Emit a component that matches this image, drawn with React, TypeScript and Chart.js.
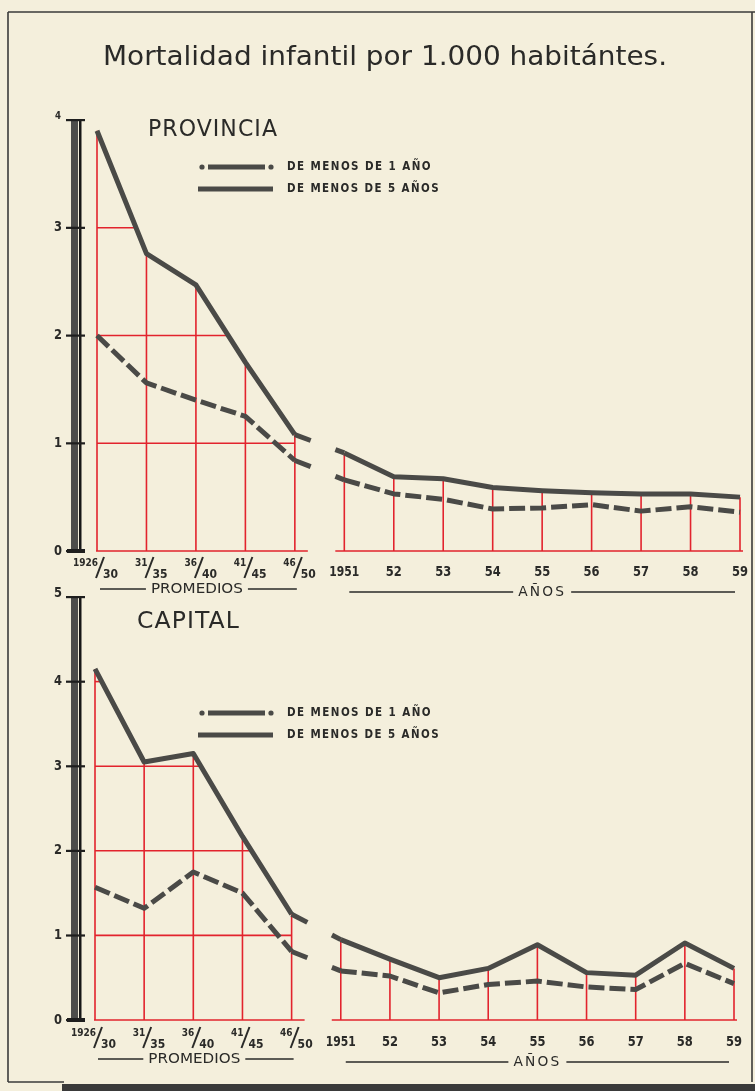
import React, { useEffect, useRef } from 'react';
import { Chart, registerables } from 'chart.js';

Chart.register(...registerables);

// ---------- data ----------
const TITLE = 'Mortalidad infantil por 1.000 habitántes.';
const CATEGORIES = ['1926/30', '31/35', '36/40', '41/45', '46/50', '1951', '52', '53', '54', '55', '56', '57', '58', '59'];
const N_PROMEDIOS = 5;
const GROUP_LABELS = ['PROMEDIOS', 'AÑOS'];
const LEGEND_LABELS = ['DE MENOS DE 1 AÑO', 'DE MENOS DE 5 AÑOS'];
const PANEL_NAMES = ['PROVINCIA', 'CAPITAL'];

const PROV_MENOS_1 = [2.0, 1.56, 1.4, 1.25, 0.84, 0.66, 0.53, 0.48, 0.39, 0.4, 0.43, 0.37, 0.41, 0.36];
const PROV_MENOS_5 = [3.9, 2.76, 2.47, 1.75, 1.08, 0.91, 0.69, 0.67, 0.59, 0.56, 0.54, 0.53, 0.53, 0.5];
const CAP_MENOS_1 = [1.57, 1.32, 1.75, 1.5, 0.81, 0.58, 0.52, 0.32, 0.42, 0.46, 0.39, 0.36, 0.67, 0.43];
const CAP_MENOS_5 = [4.15, 3.05, 3.15, 2.17, 1.25, 0.95, 0.72, 0.5, 0.61, 0.89, 0.56, 0.53, 0.91, 0.61];
const PROV_TICKS = [0, 1, 2, 3, 4];
const CAP_TICKS = [0, 1, 2, 3, 4, 5];

// ---------- style / layout ----------
const W = 755;
const H = 1091;
const BG = '#f4efdc';
const INK = '#2a2a28';
const LINE = '#4a4a47';
const RED = '#e2232d';
const FONT = '"DejaVu Sans Condensed", "DejaVu Sans", sans-serif';

type Layout = {
  pad: { left: number; right: number; top: number; bottom: number };
  titleX: number; titleW: number; titleY: number; titleSize: number;
  legendY: number[];
  catY: number; fracTop: number; fracBot: number; groupY: number;
  smallTopTick: boolean;
  drawPage: boolean;
};

const PROV_LAYOUT: Layout = {
  pad: { left: 97, right: 15, top: 120, bottom: H - 551 },
  titleX: 148, titleW: 130, titleY: 130, titleSize: 23,
  legendY: [167, 189],
  catY: 572, fracTop: 566, fracBot: 578, groupY: 589,
  smallTopTick: true,
  drawPage: true,
};
const CAP_LAYOUT: Layout = {
  pad: { left: 95, right: 21, top: 597, bottom: H - 1020 },
  titleX: 137, titleW: 103, titleY: 622, titleSize: 23,
  legendY: [713, 735],
  catY: 1042, fracTop: 1036, fracBot: 1048, groupY: 1059,
  smallTopTick: false,
  drawPage: false,
};

function fitText(ctx: CanvasRenderingContext2D, text: string, x: number, y: number, w: number, font: string, align: 'left' | 'center' | 'right' = 'left', spacing = '0px') {
  ctx.save();
  ctx.font = font;
  (ctx as any).letterSpacing = spacing;
  ctx.textBaseline = 'middle';
  ctx.textAlign = 'left';
  const m = ctx.measureText(text).width;
  const s = w / m;
  ctx.translate(x, y);
  ctx.scale(s, 1);
  const x0 = align === 'center' ? -m / 2 : align === 'right' ? -m : 0;
  ctx.fillText(text, x0, 0);
  ctx.restore();
}

function line(ctx: CanvasRenderingContext2D, x1: number, y1: number, x2: number, y2: number) {
  ctx.beginPath();
  ctx.moveTo(x1, y1);
  ctx.lineTo(x2, y2);
  ctx.stroke();
}

function makePlugin(L: Layout, ticks: number[], panelName: string) {
  return {
    id: 'vintage',
    beforeDatasetsDraw(chart: any) {
      const ctx: CanvasRenderingContext2D = chart.ctx;
      const xs = chart.scales.x;
      const ys = chart.scales.y;
      const m1: number[] = chart.data.datasets[0].data.map((p: any) => p.y);
      const m5: number[] = chart.data.datasets[1].data.map((p: any) => p.y);
      const X = (i: number) => xs.getPixelForValue(i);
      const Y = (v: number) => ys.getPixelForValue(v);
      const y0 = Y(0);
      ctx.save();
      ctx.strokeStyle = RED;
      ctx.lineWidth = 1.6;
      // horizontal grid inside promedios, bounded by upper curve
      ticks.forEach((v) => {
        if (v === 0) return;
        const top = m5.slice(0, N_PROMEDIOS);
        if (top[0] < v) return;
        let endX = X(N_PROMEDIOS - 1);
        for (let i = 0; i < N_PROMEDIOS - 1; i++) {
          if (top[i] >= v && top[i + 1] < v) {
            endX = X(i) + ((top[i] - v) / (top[i] - top[i + 1])) * (X(i + 1) - X(i));
            break;
          }
        }
        line(ctx, X(0), Y(v), endX, Y(v));
      });
      // baselines
      line(ctx, X(0) - 1, y0, X(N_PROMEDIOS - 1) + 13, y0);
      line(ctx, X(N_PROMEDIOS) - 9, y0, X(CATEGORIES.length - 1) + 3, y0);
      // drop lines
      for (let i = 0; i < CATEGORIES.length; i++) {
        const v = Math.max(m1[i], m5[i]);
        line(ctx, X(i), y0, X(i), Y(v));
      }
      ctx.restore();
    },
    afterDatasetsDraw(chart: any) {
      const ctx: CanvasRenderingContext2D = chart.ctx;
      const xs = chart.scales.x;
      const ys = chart.scales.y;
      const X = (i: number) => xs.getPixelForValue(i);
      const Y = (v: number) => ys.getPixelForValue(v);
      ctx.save();
      // stubs across the break between promedios and años
      chart.data.datasets.forEach((ds: any, di: number) => {
        const meta = chart.getDatasetMeta(di);
        const a = meta.data[N_PROMEDIOS - 1];
        const b = meta.data[N_PROMEDIOS];
        const dx = b.x - a.x;
        const dy = b.y - a.y;
        ctx.strokeStyle = LINE;
        ctx.lineWidth = 5;
        ctx.lineCap = 'butt';
        line(ctx, a.x, a.y, a.x + 0.32 * dx, a.y + 0.32 * dy);
        line(ctx, b.x - 0.18 * dx, b.y - 0.18 * dy, b.x, b.y);
      });

      // y axis bar
      const yTop = Y(ticks[ticks.length - 1]);
      const yBot = Y(0);
      ctx.fillStyle = '#4d4d4b';
      ctx.fillRect(71, yTop, 7, yBot - yTop);
      ctx.fillStyle = '#161616';
      ctx.fillRect(79, yTop, 2.5, yBot - yTop);
      ctx.fillStyle = '#1e1e1e';
      ticks.forEach((v) => {
        const y = Y(v);
        ctx.fillRect(66, y - 1, 19, 2.2);
      });
      ctx.fillRect(67, yBot - 2, 18, 4);

      // tick labels
      ctx.fillStyle = INK;
      ticks.forEach((v, k) => {
        const isTop = k === ticks.length - 1;
        const small = isTop && L.smallTopTick;
        fitText(ctx, String(v), 58, Y(v) - (isTop ? 4 : 0), small ? 6 : 8, `bold ${small ? 11 : 14}px ${FONT}`, 'center');
      });

      // category labels
      CATEGORIES.forEach((c, i) => {
        const x = X(i);
        if (i < N_PROMEDIOS) {
          const [sup, sub] = c.split('/');
          const cx = x + 3;
          ctx.save();
          ctx.fillStyle = INK;
          ctx.font = `bold 10px ${FONT}`;
          ctx.textAlign = 'right';
          ctx.textBaseline = 'alphabetic';
          ctx.fillText(sup, cx - 2, L.fracTop);
          ctx.font = `bold 12px ${FONT}`;
          ctx.textAlign = 'left';
          ctx.fillText(sub, cx + 3, L.fracBot);
          ctx.strokeStyle = INK;
          ctx.lineWidth = 2;
          line(ctx, cx - 4, L.fracBot, cx + 4, L.fracTop - 9);
          ctx.restore();
        } else {
          ctx.fillStyle = INK;
          fitText(ctx, c, x, L.catY, c.length === 4 ? 30 : 16, `bold 14px ${FONT}`, 'center');
        }
      });

      // group labels
      ctx.strokeStyle = INK;
      ctx.lineWidth = 1.3;
      const g1c = (X(0) + X(N_PROMEDIOS - 1)) / 2 + 1;
      fitText(ctx, GROUP_LABELS[0], g1c, L.groupY, 92, `14px ${FONT}`, 'center');
      line(ctx, X(0) + 3, L.groupY, g1c - 51, L.groupY);
      line(ctx, g1c + 51, L.groupY, X(N_PROMEDIOS - 1) + 2, L.groupY);
      const g2c = (X(N_PROMEDIOS) + X(CATEGORIES.length - 1)) / 2;
      fitText(ctx, GROUP_LABELS[1], g2c, L.groupY + 3, 48, `14px ${FONT}`, 'center', '2px');
      line(ctx, X(N_PROMEDIOS) + 5, L.groupY + 3, g2c - 29, L.groupY + 3);
      line(ctx, g2c + 29, L.groupY + 3, X(CATEGORIES.length - 1) - 5, L.groupY + 3);

      // panel name
      fitText(ctx, panelName, L.titleX, L.titleY, L.titleW, `${L.titleSize}px ${FONT}`, 'left', '1px');

      // legend
      const [ly1, ly2] = L.legendY;
      ctx.strokeStyle = LINE;
      ctx.fillStyle = LINE;
      ctx.lineWidth = 5;
      line(ctx, 208, ly1, 265, ly1);
      ctx.beginPath(); ctx.arc(202, ly1, 2.6, 0, Math.PI * 2); ctx.fill();
      ctx.beginPath(); ctx.arc(271, ly1, 2.6, 0, Math.PI * 2); ctx.fill();
      line(ctx, 198, ly2, 273, ly2);
      ctx.fillStyle = INK;
      fitText(ctx, LEGEND_LABELS[0], 287, ly1, 145, `bold 12px ${FONT}`, 'left', '1.5px');
      fitText(ctx, LEGEND_LABELS[1], 287, ly2, 153, `bold 12px ${FONT}`, 'left', '1.5px');

      if (L.drawPage) {
        // page title and frame
        ctx.fillStyle = INK;
        fitText(ctx, TITLE, 103, 58, 564, `27px ${FONT}`, 'left');
        ctx.strokeStyle = '#3a3a3a';
        ctx.lineWidth = 1.6;
        line(ctx, 8, 12, W, 12);
        line(ctx, 8, 12, 8, 1082);
        line(ctx, 8, 1082, 64, 1082);
        line(ctx, 752, 12, 752, 1082);
        ctx.fillStyle = '#3a3a3a';
        ctx.fillRect(62, 1084, W - 62, 7);
      }
      ctx.restore();
    },
  };
}

function Panel({ layout, m1, m5, ticks, name }: { layout: Layout; m1: number[]; m5: number[]; ticks: number[]; name: string }) {
  const ref = useRef<HTMLCanvasElement | null>(null);
  useEffect(() => {
    if (!ref.current) return;
    const toPts = (arr: number[]) => arr.map((v, i) => ({ x: i, y: v }));
    const hideBreak = (c: any) => (c.p0DataIndex === N_PROMEDIOS - 1 ? 'rgba(0,0,0,0)' : undefined);
    const chart = new Chart(ref.current, {
      type: 'line',
      data: {
        datasets: [
          {
            label: LEGEND_LABELS[0],
            data: toPts(m1),
            borderColor: LINE,
            borderWidth: 5,
            borderDash: [16, 5],
            pointRadius: 0,
            tension: 0,
            fill: false,
            clip: false as any,
            borderJoinStyle: 'round',
            segment: { borderColor: hideBreak },
          },
          {
            label: LEGEND_LABELS[1],
            data: toPts(m5),
            borderColor: LINE,
            borderWidth: 5,
            pointRadius: 0,
            tension: 0,
            fill: false,
            clip: false as any,
            borderJoinStyle: 'round',
            segment: { borderColor: hideBreak },
          },
        ],
      },
      options: {
        responsive: false,
        animation: false,
        events: [],
        layout: { padding: layout.pad },
        plugins: { legend: { display: false }, tooltip: { enabled: false }, title: { display: false } },
        scales: {
          x: { type: 'linear', min: 0, max: CATEGORIES.length - 1, display: false },
          y: { type: 'linear', min: 0, max: ticks[ticks.length - 1], display: false },
        },
      },
      plugins: [makePlugin(layout, ticks, name)],
    } as any);
    return () => chart.destroy();
  }, [layout, m1, m5, ticks, name]);
  return <canvas ref={ref} width={W} height={H} style={{ position: 'absolute', left: 0, top: 0, width: W, height: H }} />;
}

export default function App() {
  return (
    <div style={{ position: 'absolute', left: 0, top: 0, width: W, height: H, background: BG, overflow: 'hidden' }}>
      <Panel layout={PROV_LAYOUT} m1={PROV_MENOS_1} m5={PROV_MENOS_5} ticks={PROV_TICKS} name={PANEL_NAMES[0]} />
      <Panel layout={CAP_LAYOUT} m1={CAP_MENOS_1} m5={CAP_MENOS_5} ticks={CAP_TICKS} name={PANEL_NAMES[1]} />
    </div>
  );
}
